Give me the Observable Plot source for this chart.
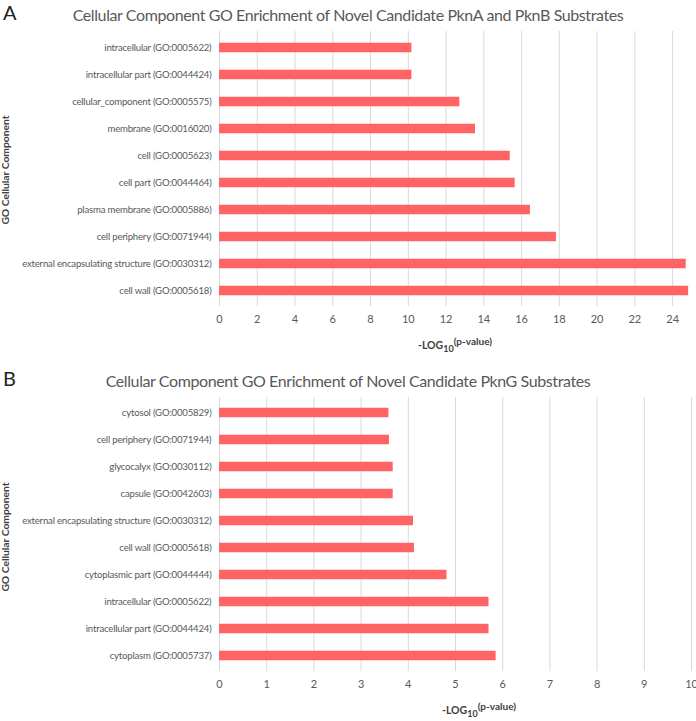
<!DOCTYPE html>
<html>
<head>
<meta charset="utf-8">
<script src="https://cdn.jsdelivr.net/npm/d3@7"></script>
<script src="https://cdn.jsdelivr.net/npm/@observablehq/plot@0.6"></script>
<style>
  body { margin: 0; background: #fff; }
  #root { position: relative; width: 696px; height: 721px; font-family: Lato, "Open Sans", sans-serif; overflow: hidden; }
  .letter { position: absolute; left: 3px; font-size: 20px; color: #222; }
  .title { position: absolute; left: 0; width: 696px; text-align: center; font-size: 16px; letter-spacing: -0.4px; color: #595959; line-height: 20px; }
  .chart { position: absolute; left: 0; }
</style>
</head>
<body>
<div id="root">
  <div class="letter" style="top:0px">A</div>
  <div class="title" id="titleA" style="top:5px"></div>
  <div class="chart" id="chartA" style="top:31px"></div>
  <div class="letter" style="top:366px">B</div>
  <div class="title" id="titleB" style="top:371px"></div>
  <div class="chart" id="chartB" style="top:397px"></div>
</div>
<script>
const titleA = "Cellular Component GO Enrichment of Novel Candidate PknA and PknB Substrates";
const titleB = "Cellular Component GO Enrichment of Novel Candidate PknG Substrates";
const yLabel = "GO Cellular Component";

const termsA = [
  "intracellular (GO:0005622)",
  "intracellular part (GO:0044424)",
  "cellular_component (GO:0005575)",
  "membrane (GO:0016020)",
  "cell (GO:0005623)",
  "cell part (GO:0044464)",
  "plasma membrane (GO:0005886)",
  "cell periphery (GO:0071944)",
  "external encapsulating structure (GO:0030312)",
  "cell wall (GO:0005618)"
];
const valuesA = [10.19, 10.19, 12.73, 13.56, 15.40, 15.66, 16.47, 17.85, 24.72, 24.85];
const ticksA = [0, 2, 4, 6, 8, 10, 12, 14, 16, 18, 20, 22, 24];
const domainA = [0, 25];

const termsB = [
  "cytosol (GO:0005829)",
  "cell periphery (GO:0071944)",
  "glycocalyx (GO:0030112)",
  "capsule (GO:0042603)",
  "external encapsulating structure (GO:0030312)",
  "cell wall (GO:0005618)",
  "cytoplasmic part (GO:0044444)",
  "intracellular (GO:0005622)",
  "intracellular part (GO:0044424)",
  "cytoplasm (GO:0005737)"
];
const valuesB = [3.59, 3.60, 3.68, 3.68, 4.11, 4.13, 4.82, 5.71, 5.71, 5.86];
const ticksB = [0, 1, 2, 3, 4, 5, 6, 7, 8, 9, 10];
const domainB = [0, 10];

document.getElementById("titleA").textContent = titleA;
document.getElementById("titleB").textContent = titleB;

function makeChart(terms, values, ticks, domain, height, marginBottom, xLabelDx, yLabelDy) {
  const data = terms.map((t, i) => ({term: t, value: values[i]}));
  const plot = Plot.plot({
    width: 696,
    height: height,
    marginTop: 0,
    marginLeft: 219,
    marginRight: 5,
    marginBottom: marginBottom,
    style: {fontFamily: "Lato, 'Open Sans', sans-serif", fontSize: "10px", color: "#595959", background: "#fff"},
    x: {domain: domain, label: null},
    y: {domain: terms, padding: 0, label: null},
    marks: [
      Plot.gridX(ticks, {stroke: "#d9d9d9", strokeOpacity: 1, strokeWidth: 1}),
      Plot.barX(data, {x: "value", y: "term", fill: "#ff6363", insetTop: 8.75, insetBottom: 8.75}),
      Plot.axisX({ticks: ticks, tickSize: 0, tickPadding: 9, label: null, fontSize: 11}),
      Plot.axisY({tickSize: 0, tickPadding: 8, label: null, fontSize: 9.6})
    ]
  });
  const svg = d3.select(plot);
  svg.selectAll("g[aria-label='y-axis tick label'] text")
    .attr("letter-spacing", "-0.2px");
  const xs = plot.scale("x").range;
  const top = 0, bottom = height - marginBottom;
  // y-axis title
  svg.append("text")
    .attr("transform", `translate(6, ${(top + bottom) / 2 + yLabelDy}) rotate(-90)`)
    .attr("text-anchor", "middle")
    .attr("dominant-baseline", "middle")
    .attr("font-weight", "bold")
    .attr("font-size", 10.3)
    .attr("fill", "#404040")
    .text(yLabel);
  // x-axis title with subscript and superscript
  const t = svg.append("text")
    .attr("x", (xs[0] + xs[1]) / 2 + xLabelDx)
    .attr("y", bottom + 43)
    .attr("text-anchor", "middle")
    .attr("font-weight", "bold")
    .attr("font-size", 10.5)
    .attr("fill", "#404040");
  t.append("tspan").text("-LOG");
  t.append("tspan").attr("dy", 3).attr("font-size", 9).text("10");
  t.append("tspan").attr("dy", -7).attr("font-size", 10).text("(p-value)");
  return plot;
}

document.getElementById("chartA").append(makeChart(termsA, valuesA, ticksA, domainA, 330, 55, 0, 1.5));
document.getElementById("chartB").append(makeChart(termsB, valuesB, ticksB, domainB, 324, 50, 24, 3));
</script>
</body>
</html>
